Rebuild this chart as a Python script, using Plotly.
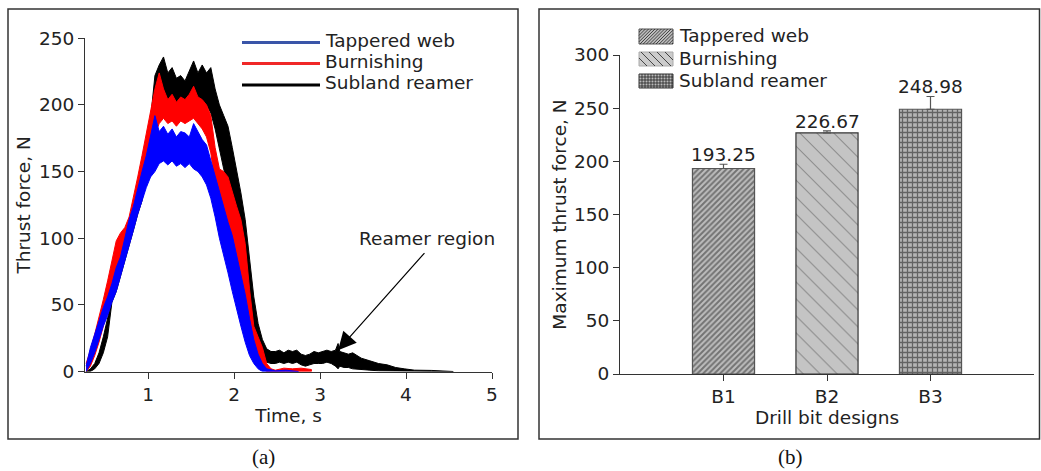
import plotly.graph_objects as go

# ---------------- Panel (a): thrust force envelopes ----------------
t_main = [0.28, 0.33, 0.38, 0.43, 0.48, 0.53, 0.58, 0.63, 0.68, 0.73, 0.78, 0.83, 0.88,
          0.93, 0.98, 1.03, 1.08, 1.13, 1.18, 1.23, 1.28, 1.33, 1.38, 1.43, 1.48, 1.53,
          1.58, 1.63, 1.68, 1.73, 1.78, 1.83, 1.88, 1.93, 1.98, 2.03, 2.08, 2.13, 2.18,
          2.23, 2.28, 2.33, 2.38, 2.43, 2.48]

# Tappered web (blue)
tw_t = t_main + [2.6, 2.75]
tw_hi = [4, 18, 28, 38, 48, 56, 66, 78, 86, 100, 114, 124, 138, 150, 162, 176, 192, 180,
         184, 178, 182, 176, 180, 179, 176, 186, 180, 174, 170, 158, 146, 134, 124, 112,
         102, 88, 72, 58, 40, 24, 13, 6, 2, 1, 0.5] + [1, 0.5]
tw_lo = [0, 6, 14, 24, 34, 42, 52, 60, 70, 82, 94, 106, 118, 128, 138, 146, 150, 156,
         158, 155, 158, 154, 156, 153, 156, 152, 150, 146, 140, 130, 116, 100, 86, 74,
         60, 46, 34, 22, 12, 6, 2, 0, 0, 0, 0] + [0, 0]

# Burnishing (red)
bu_t = t_main + [2.58, 2.68, 2.78, 2.9]
bu_hi = [6, 16, 28, 40, 54, 68, 84, 98, 104, 108, 116, 130, 146, 162, 178, 194, 212, 224,
         212, 204, 208, 202, 206, 204, 208, 214, 206, 204, 200, 192, 168, 152, 150, 146,
         134, 124, 114, 96, 62, 34, 26, 18, 6, 2, 1] + [2.5, 2, 2.5, 1.5]
bu_lo = [0, 4, 12, 22, 34, 46, 60, 74, 84, 90, 96, 108, 122, 138, 152, 166, 178, 186,
         190, 186, 188, 184, 188, 186, 188, 190, 186, 182, 176, 164, 140, 124, 116, 106,
         94, 82, 70, 52, 30, 14, 6, 2, 0, 0, 0] + [0, 0, 0, 0]

# Subland reamer (black)
sr_t = t_main[:-1] + [2.48, 2.53, 2.58, 2.63, 2.68, 2.73, 2.78, 2.83, 2.88, 2.93, 2.98,
                      3.03, 3.08, 3.13, 3.18, 3.21, 3.23, 3.28, 3.33, 3.38, 3.43, 3.48,
                      3.58, 3.68, 3.78, 3.88, 3.98, 4.1, 4.3, 4.55]
sr_hi = [0, 2, 6, 14, 26, 40, 54, 64, 76, 90, 104, 116, 130, 146, 166, 190, 222, 230,
         236, 224, 228, 220, 222, 218, 226, 233, 224, 230, 224, 228, 212, 200, 192, 184,
         168, 152, 134, 114, 86, 56, 36, 24, 17, 15] + \
        [15, 16, 14, 16, 15, 16, 13, 12, 13, 15, 14, 15, 16, 15, 16, 21, 15, 14, 13, 14,
         12, 10, 8, 6, 5, 3, 2, 1, 0.8, 0.5]
sr_lo = [0, 0, 2, 6, 14, 26, 52, 60, 70, 82, 94, 106, 118, 128, 144, 166, 190, 200, 204,
         198, 202, 198, 202, 198, 204, 200, 204, 200, 200, 194, 182, 168, 152, 138, 124,
         108, 90, 70, 48, 30, 18, 10, 7, 6] + \
        [6, 7, 6, 7, 6, 7, 5, 4, 5, 6, 6, 6, 7, 6, 4, 2, 4, 3, 3, 2, 2, 1.5, 1, 0.5, 0,
         0, 0, 0, 0, 0]

series_a = [
    ("Subland reamer", sr_t, sr_hi, sr_lo, "#000000"),
    ("Burnishing", bu_t, bu_hi, bu_lo, "#ff0000"),
    ("Tappered web", tw_t, tw_hi, tw_lo, "#0000ff"),
]
legend_a = ["Tappered web", "Burnishing", "Subland reamer"]
legend_a_colors = ["#3a55a8", "#f02828", "#000000"]

# ---------------- Panel (b): maximum thrust force ----------------
designs = ["B1", "B2", "B3"]
bar_names = ["Tappered web", "Burnishing", "Subland reamer"]
max_force = [193.25, 226.67, 248.98]
err_plus = [4, 2, 12]

W, H = 1041, 471
def px(x):
    return x / W
def py(y):
    return 1 - y / H

FONT = "DejaVu Sans, Arial, sans-serif"
FS = 18.5
TXT = "#222222"
AX = "#333333"

fig = go.Figure()

for name, t, hi, lo, col in series_a:
    fig.add_trace(go.Scatter(
        x=list(t) + list(t)[::-1], y=list(hi) + list(lo)[::-1],
        fill="toself", fillcolor=col, mode="lines", name=name,
        line=dict(color=col, width=1), showlegend=False, hoverinfo="skip",
        xaxis="x", yaxis="y"))

patterns = [
    dict(shape="/", size=4, solidity=0.5, fgcolor="#2a2a2a", bgcolor="#bdbdbd", fillmode="overlay"),
    dict(shape="\\", size=12, solidity=0.08, fgcolor="#1a1a1a", bgcolor="#c4c4c4", fillmode="overlay"),
    dict(shape="+", size=5, solidity=0.45, fgcolor="#111111", bgcolor="#b5b5b5", fillmode="overlay"),
]
line_cols = ["#555555", "#333333", "#555555"]
for i, d in enumerate(designs):
    fig.add_trace(go.Bar(
        x=[d], y=[max_force[i]], name=bar_names[i], width=0.6, showlegend=False,
        marker=dict(color=patterns[i]["bgcolor"], pattern=patterns[i],
                    line=dict(color=line_cols[i], width=1.2)),
        error_y=dict(type="data", symmetric=False, array=[err_plus[i]], arrayminus=[0],
                     color="#555555", thickness=1.2, width=4),
        xaxis="x2", yaxis="y2"))

annotations = []
shapes = []

for i, d in enumerate(designs):
    annotations.append(dict(
        x=d, y=max_force[i] + err_plus[i], xref="x2", yref="y2", text=f"{max_force[i]:.2f}",
        showarrow=False, xanchor="center", yanchor="bottom", yshift=-3,
        font=dict(size=FS, color=TXT)))

annotations += [
    dict(x=3.21, y=16, ax=4.23, ay=90, xref="x", yref="y", axref="x", ayref="y",
         text="", showarrow=True, arrowhead=2, arrowsize=3, arrowwidth=1.2, arrowcolor="#000"),
    dict(x=4.24, y=100, xref="x", yref="y", text="Reamer region", showarrow=False,
         xanchor="center", yanchor="middle", font=dict(size=FS, color=TXT)),
    dict(x=px(263), y=py(457), xref="paper", yref="paper", text="(a)", showarrow=False,
         xanchor="center", yanchor="middle",
         font=dict(family="Liberation Serif, Times New Roman, serif", size=21, color="#111")),
    dict(x=px(790), y=py(457), xref="paper", yref="paper", text="(b)", showarrow=False,
         xanchor="center", yanchor="middle",
         font=dict(family="Liberation Serif, Times New Roman, serif", size=21, color="#111")),
]

# --- panel frames ---
shapes += [
    dict(type="rect", xref="paper", yref="paper", x0=px(8), x1=px(518), y0=py(439), y1=py(9),
         line=dict(color=AX, width=1.5)),
    dict(type="rect", xref="paper", yref="paper", x0=px(539), x1=px(1039.5), y0=py(439), y1=py(9),
         line=dict(color=AX, width=1.5)),
]

# --- legend (a): line swatches + labels ---
for k, (lab, col) in enumerate(zip(legend_a, legend_a_colors)):
    yy = [42.5, 63.5, 85][k]
    shapes.append(dict(type="line", xref="paper", yref="paper", x0=px(242), x1=px(320),
                       y0=py(yy), y1=py(yy), line=dict(color=col, width=3)))
    annotations.append(dict(x=px(323), y=py(yy - 2), xref="paper", yref="paper", text=lab,
                            showarrow=False, xanchor="left", yanchor="middle",
                            font=dict(size=FS, color=TXT)))

# --- legend (b): patterned swatches + labels ---
def hatch_path(x0, y0, x1, y1, kind, step):
    segs = []
    if kind == "/":
        c = x0 + y0 + step
        while c < x1 + y1:
            xa, xb = max(x0, c - y1), min(x1, c - y0)
            if xb > xa:
                segs.append((xa, c - xa, xb, c - xb))
            c += step
    elif kind == "\\":
        c = x0 - y1 + step
        while c < x1 - y0:
            xa, xb = max(x0, c + y0), min(x1, c + y1)
            if xb > xa:
                segs.append((xa, xa - c, xb, xb - c))
            c += step
    else:
        x = x0 + step
        while x < x1:
            segs.append((x, y0, x, y1))
            x += step
        y = y0 + step
        while y < y1:
            segs.append((x0, y, x1, y))
            y += step
    return " ".join(f"M{px(a):.5f},{py(b):.5f} L{px(c):.5f},{py(d):.5f}" for a, b, c, d in segs)

sw_rows = [(29, 44), (52, 66), (74, 88)]
sw_kind = [("/", 3.2, "#bdbdbd", "#555555", 0.8), ("\\", 8, "#cccccc", "#aaaaaa", 0.8),
           ("+", 3.0, "#bbbbbb", "#333333", 0.8)]
for k, lab in enumerate(bar_names):
    y0, y1 = sw_rows[k]
    kind, step, bg, border, lw = sw_kind[k]
    shapes.append(dict(type="rect", xref="paper", yref="paper", x0=px(639), x1=px(673),
                       y0=py(y1), y1=py(y0), fillcolor=bg, line=dict(color=border, width=1)))
    shapes.append(dict(type="path", xref="paper", yref="paper",
                       path=hatch_path(639, y0, 673, y1, kind, step),
                       line=dict(color="#222222", width=lw)))
    annotations.append(dict(x=px(677), y=py((y0 + y1) / 2 - 0.5), xref="paper", yref="paper",
                            text=lab, showarrow=False, xanchor="left", yanchor="middle",
                            font=dict(size=FS, color=TXT)))

axis_common = dict(showline=True, linecolor=AX, linewidth=1, ticks="outside", ticklen=6,
                   tickcolor=AX, showgrid=False, zeroline=False, automargin=False,
                   tickfont=dict(size=FS, color=TXT))

fig.update_layout(
    width=W, height=H, margin=dict(l=0, r=0, t=0, b=0, pad=0), autosize=False,
    paper_bgcolor="white", plot_bgcolor="white",
    font=dict(family=FONT, size=FS, color=TXT),
    barmode="overlay", showlegend=False,
    xaxis=dict(domain=[px(85), px(492)], range=[0.267, 5], tickvals=[1, 2, 3, 4, 5],
               anchor="y", title=dict(text="Time, s", standoff=3, font=dict(size=FS)),
               **axis_common),
    yaxis=dict(domain=[py(371.5), py(38.3)], range=[0, 250], dtick=50, anchor="x",
               title=dict(text="Thrust force, N", standoff=3, font=dict(size=FS)),
               **axis_common),
    xaxis2=dict(domain=[px(620), px(1034)], range=[-1, 3], type="category",
                anchor="y2", title=dict(text="Drill bit designs", standoff=3, font=dict(size=FS)),
                **axis_common),
    yaxis2=dict(domain=[py(374), py(55)], range=[0, 300], dtick=50, anchor="x2",
                title=dict(text="Maximum thrust force, N", standoff=2, font=dict(size=FS)),
                **axis_common),
    annotations=annotations, shapes=shapes,
)

fig.write_html("out.html")
